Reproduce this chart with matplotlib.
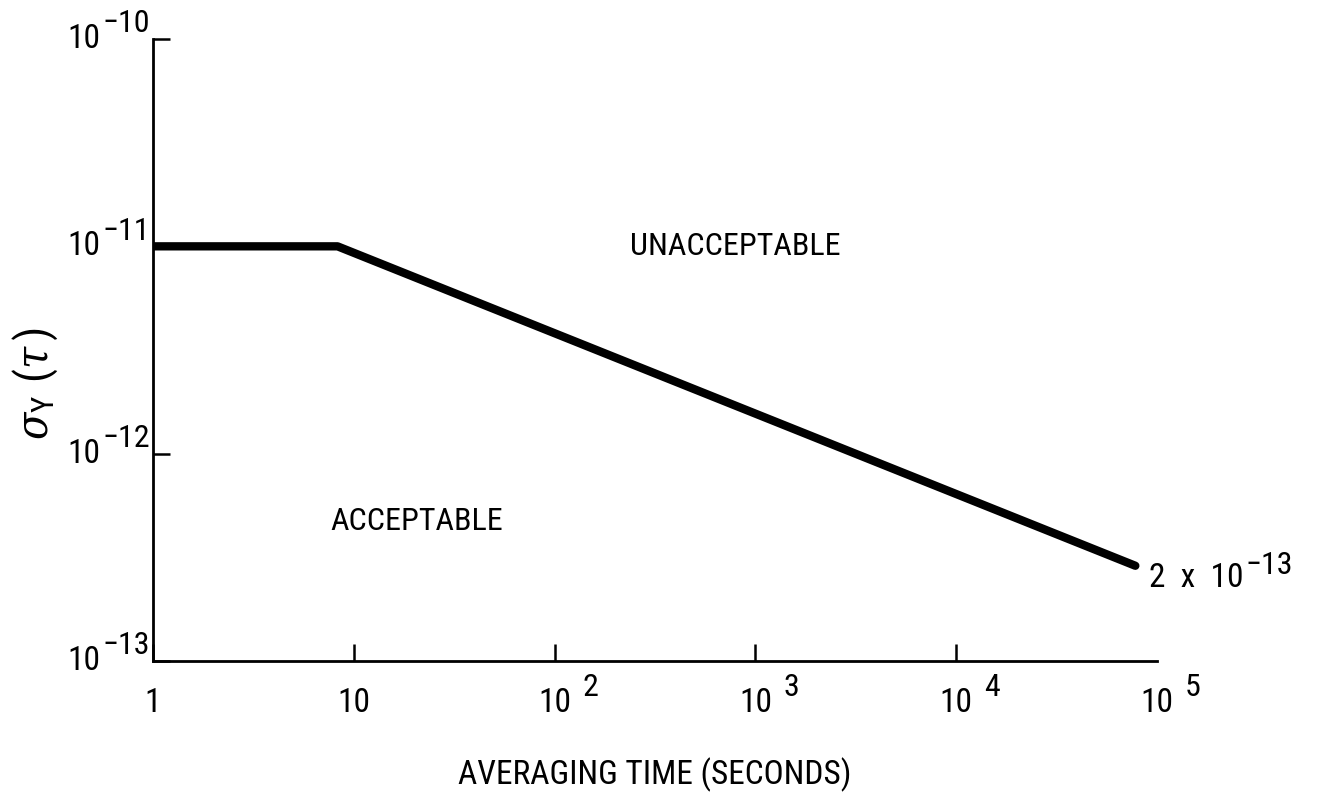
import matplotlib
matplotlib.use('Agg')
import matplotlib.pyplot as plt
from matplotlib import font_manager


# requirement curve
tau = [1, 8.3, 78000]
sigma = [1e-11, 1e-11, 2.88e-13]
end_base, end_exp = '2  x  10', '\u221213'

xticks = [1, 10, 1e2, 1e3, 1e4, 1e5]
xbases = ['1', '10', '10', '10', '10', '10']
xexps = ['', '', '2', '3', '4', '5']
yticks = [1e-13, 1e-12, 1e-11, 1e-10]
ybases = ['10', '10', '10', '10']
yexps = ['\u221213', '\u221212', '\u221211', '\u221210']

# want a narrow typewriter-ish face, take whatever condensed one is there
names = {f.name for f in font_manager.fontManager.ttflist}
cands = ['Liberation Sans Narrow', 'Roboto Condensed', 'Open Sans Condensed',
         'Roboto', 'Liberation Sans']
FAM = next(n for n in cands + ['DejaVu Sans'] if n in names)
plt.rcParams['font.family'] = [FAM, 'DejaVu Sans']
plt.rcParams['font.stretch'] = 'condensed'
plt.rcParams['mathtext.fontset'] = 'custom'
plt.rcParams['mathtext.rm'] = FAM
plt.rcParams['mathtext.it'] = 'DejaVu Serif:italic'

FS = 24

fig = plt.figure(figsize=(13.21, 8), dpi=100)
ax = fig.add_axes([153 / 1321, 1 - 661 / 800, (1157 - 153) / 1321, (661 - 39) / 800])

ax.plot(tau, sigma, 'k-', linewidth=6, solid_capstyle='round', solid_joinstyle='round')

ax.set_xscale('log')
ax.set_yscale('log')
ax.set_xlim(1, 1e5)
ax.set_ylim(1e-13, 1e-10)

for s in ['top', 'right']:
    ax.spines[s].set_visible(False)
for s in ['left', 'bottom']:
    ax.spines[s].set_linewidth(2)

ax.minorticks_off()
ax.set_xticks(xticks)
ax.set_xticklabels(xbases, fontsize=FS)
ax.set_yticks(yticks)
ax.set_yticklabels([])
ax.tick_params(axis='both', direction='in', length=12, width=1.8)
ax.tick_params(axis='x', pad=19)
ax.xaxis.get_major_ticks()[-1].tick1line.set_visible(False)

# exponents in the original are nearly full size, so draw them as separate texts
for xt, e in zip(xticks, xexps):
    if e:
        ax.annotate(e, xy=(xt, 0), xycoords=('data', 'axes fraction'),
                    xytext=(20, -19), textcoords='offset points',
                    ha='left', va='center', fontsize=FS - 1)

for yt, b, e in zip(yticks, ybases, yexps):
    ax.annotate(e, xy=(0, yt), xycoords=('axes fraction', 'data'),
                xytext=(-2, 11), textcoords='offset points',
                ha='right', va='center', fontsize=FS - 1)
    ax.annotate(b, xy=(0, yt), xycoords=('axes fraction', 'data'),
                xytext=(-38, 0), textcoords='offset points',
                ha='right', va='center', fontsize=FS)

ax.text(791, 1e-11, 'UNACCEPTABLE', fontsize=FS - 1, ha='center', va='center')
ax.text(20.6, 4.7e-13, 'ACCEPTABLE', fontsize=FS - 1, ha='center', va='center')
base = ax.annotate(end_base, xy=(tau[-1], sigma[-1]), xytext=(10, -9),
                   textcoords='offset points', ha='left', va='center', fontsize=FS)
ax.annotate(end_exp, xy=(1, 0.5), xycoords=base, xytext=(1, 9),
            textcoords='offset points', ha='left', va='center', fontsize=FS - 1)

ax.set_xlabel('AVERAGING TIME (SECONDS)', fontsize=24)
ax.xaxis.set_label_coords(0.5, -0.155)
ax.set_ylabel(r'$\sigma_{\mathrm{Y}}\ (\tau\,)$', fontsize=32)
ax.yaxis.set_label_coords(-0.093, 0.447)

fig.savefig('out.png', dpi=100)
